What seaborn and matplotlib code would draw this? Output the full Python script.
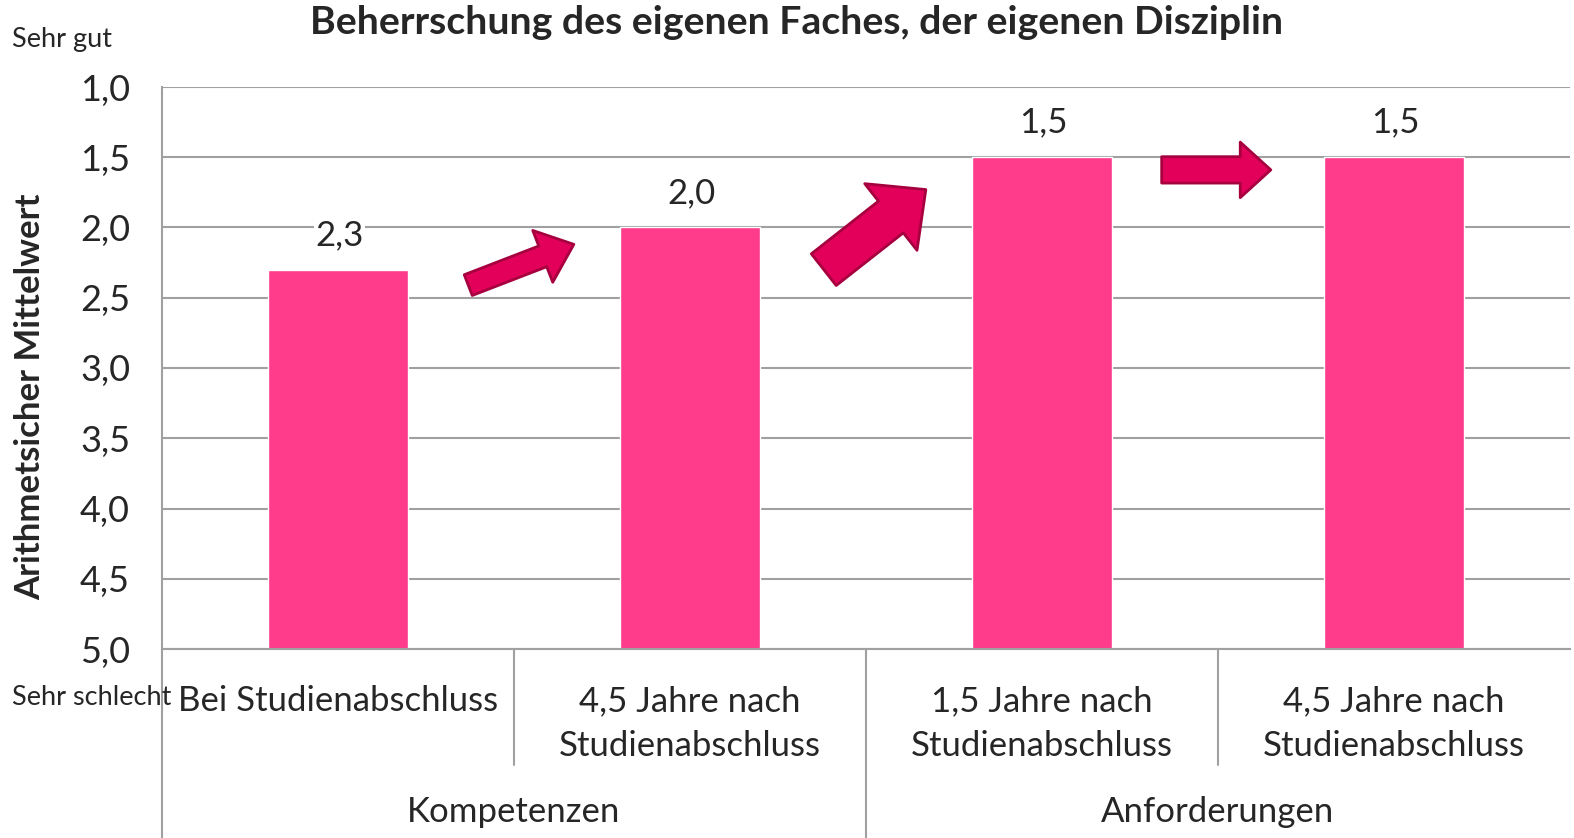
#!/usr/bin/env python3
import numpy as np
import pandas as pd
import matplotlib as mpl
mpl.use("Agg")
import matplotlib.pyplot as plt
import matplotlib.transforms as mtransforms
from matplotlib.patches import FancyArrowPatch
import seaborn as sns

# Data
categories = ["Bei Studienabschluss",
              "4,5 Jahre nach\nStudienabschluss",
              "1,5 Jahre nach\nStudienabschluss",
              "4,5 Jahre nach\nStudienabschluss"]
groups = ["Kompetenzen", "Anforderungen"]
values = [2.3, 2.0, 1.5, 1.5]
scale_ticks = [1.0, 1.5, 2.0, 2.5, 3.0, 3.5, 4.0, 4.5, 5.0]
worst = 5.0

bar_color = "#FF3B8B"
grid_color = "#A0A0A0"
arrow_face = "#E2005B"
arrow_edge = "#A6003F"


def de(v):
    return "{:.1f}".format(v).replace(".", ",")


def plot():
    sns.set_style("white")
    plt.rcParams["font.family"] = ["Lato", "DejaVu Sans"]

    fig = plt.figure(figsize=(15.74, 8.38), dpi=100)
    ax = fig.add_axes([162 / 1574, 189 / 838, 1408 / 1574, 562 / 838])

    # scale is inverted (1 = sehr gut on top), bars rise from 5,0
    df = pd.DataFrame({"cat": range(len(values)), "h": [worst - v for v in values]})
    sns.barplot(data=df, x="cat", y="h", color=bar_color, saturation=1,
                width=0.4, ax=ax, zorder=2)

    ax.set_xlim(-0.5, len(values) - 0.5)
    ax.set_ylim(0, worst - scale_ticks[0])
    ax.set_yticks([worst - t for t in scale_ticks])
    ax.set_yticklabels([de(t) for t in scale_ticks], fontsize=26)
    ax.yaxis.grid(True, color=grid_color, linewidth=1.5, zorder=0)
    ax.set_axisbelow(True)
    ax.tick_params(axis="y", length=7, width=1.5, color=grid_color, pad=16)

    ax.set_xticks(range(len(values)))
    ax.set_xticklabels(categories, fontsize=25, linespacing=1.5, va="top")
    ax.tick_params(axis="x", length=0, pad=26)
    ax.set_xlabel("")
    ax.set_ylabel("")

    for s in ["top", "right"]:
        ax.spines[s].set_visible(False)
    for s in ["left", "bottom"]:
        ax.spines[s].set_color(grid_color)
        ax.spines[s].set_linewidth(1.5)

    # value labels
    for i, v in enumerate(values):
        ax.annotate(de(v), xy=(i, worst - v), xytext=(1, 25), textcoords="offset points",
                    ha="center", va="center", fontsize=25,
                    bbox=dict(facecolor="white", edgecolor="none", pad=1))

    # group separators below the axis
    trans = mtransforms.blended_transform_factory(ax.transData, ax.transAxes)
    for x in [0.5, 2.5]:
        ax.plot([x, x], [0, -0.206], color=grid_color, lw=1.5, transform=trans, clip_on=False)
    for x in [-0.5, 1.5]:
        ax.plot([x, x], [0, -0.34], color=grid_color, lw=1.5, transform=trans, clip_on=False)
    for j, g in enumerate(groups):
        ax.text(2 * j + 0.5, -0.29, g, transform=trans, ha="center", va="center", fontsize=25)

    # arrows between bars
    arrows = [((0.37, 2.41), (0.67, 2.12), 16, 40, 24),
              ((1.38, 2.30), (1.67, 1.73), 29, 61, 32),
              ((2.34, 1.59), (2.65, 1.59), 19, 40, 22)]
    for (x0, v0), (x1, v1), tw, hw, hl in arrows:
        style = "simple,tail_width={},head_width={},head_length={}".format(tw, hw, hl)
        ax.add_patch(FancyArrowPatch((x0, worst - v0), (x1, worst - v1), arrowstyle=style,
                                     mutation_scale=1, shrinkA=0, shrinkB=0,
                                     facecolor=arrow_face, edgecolor=arrow_edge,
                                     linewidth=2, zorder=3, clip_on=False))

    fig.text(797 / 1574, 1 - 22 / 838, "Beherrschung des eigenen Faches, der eigenen Disziplin",
             ha="center", va="center", fontsize=28.3, fontweight="bold")
    fig.text(12 / 1574, 1 - 40 / 838, "Sehr gut", ha="left", va="center", fontsize=19.5)
    fig.text(12 / 1574, 1 - 697 / 838, "Sehr schlecht", ha="left", va="center", fontsize=19.5)
    fig.text(30 / 1574, 1 - 397 / 838, "Arithmetsicher Mittelwert", rotation=90,
             ha="center", va="center", fontsize=25, fontweight="bold")
    return fig


def main():
    fig = plot()
    fig.savefig("out.png", dpi=100)


if __name__ == '__main__':
    main()
